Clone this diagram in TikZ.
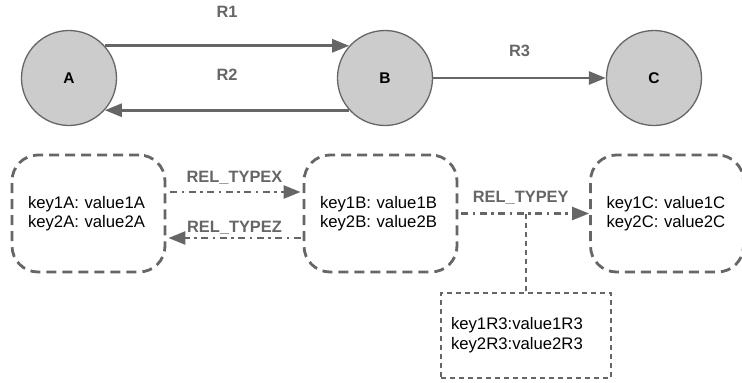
\documentclass[tikz,border=0pt]{standalone}
\usepackage{fontspec}
\setmainfont{Liberation Sans}
\usetikzlibrary{arrows.meta}

\definecolor{linegray}{HTML}{666666}
\definecolor{nodegray}{HTML}{CCCCCC}

\tikzset{
  lbl/.style={text=linegray, font=\bfseries\fontsize{16.4}{19}\selectfont, anchor=base},
  tip/.style={-{Triangle[length=17pt,width=13pt]}},
  dashdot/.style={dash pattern=on 7pt off 4.5pt on 2.5pt off 4.5pt}
}

\begin{document}
\begin{tikzpicture}[x=1pt,y=-1pt]

        \useasboundingbox (0,0) rectangle (742,383);

        \begin{scope}[every node/.style={circle, draw=linegray, fill=nodegray, line width=1.3pt,
                      minimum size=95pt, font=\bfseries\fontsize{15.5}{18}\selectfont}]
          \node (a) at (69,78)  {A};
          \node (b) at (385,78) {B};
          \node (c) at (654,78) {C};
        \end{scope}

        \begin{scope}[every node/.style={draw=linegray, line width=2.8pt, dash pattern=on 10pt off 6pt,
                      rounded corners=26pt, minimum height=117pt, text width=121pt, inner xsep=16pt,
                      align=left, font=\fontsize{16.7}{19}\selectfont}]
          \node (pa) at (88.5,213.5) {key1A: value1A\\key2A: value2A};
          \node (pb) at (380.5,213.5) {key1B: value1B\\key2B: value2B};
          \node (pc) at (667,213.5)  {key1C: value1C\\key2C: value2C};
        \end{scope}

        \node[draw=linegray, line width=1.4pt, dash pattern=on 5pt off 4pt, minimum height=85pt,
              text width=150pt, inner xsep=10pt, align=left, font=\fontsize{16.7}{20}\selectfont]
              (pr) at (526,335.5) {key1R3:value1R3\\key2R3:value2R3};

        \coordinate (ymid) at (pr.north |- pb.east);

        \begin{scope}[every edge/.style={draw=linegray, line width=2.6pt, tip}]
          \path (a.42)   edge node[lbl, yshift=28.5pt] (r1) {R1} (b.138);
          \path (b.-138) edge node[lbl, yshift=29.3pt] (r2) {R2} (a.-42);
          \path (b)      edge node[lbl, yshift=21.3pt] (r3) {R3} (c);
          \path ([yshift=21.5pt]pa.east) edge[dashdot, shorten <=4pt, shorten >=2pt]
                node[lbl, yshift=9.5pt] (tx) {REL\_TYPEX} ([yshift=21.5pt]pb.west);
          \path ([yshift=-24.5pt]pb.west) edge[dashdot, shorten <=2pt, shorten >=2pt]
                node[lbl, yshift=5.7pt] (tz) {REL\_TYPEZ} ([yshift=-24.5pt]pa.east);
          \path (pb.east) edge[dashdot, shorten <=3pt]
                node[lbl, yshift=11.3pt, xshift=-3pt] (ty) {REL\_TYPEY} (pc.west);
        \end{scope}

        \draw[linegray, line width=1.4pt, dash pattern=on 5pt off 4pt] (ymid) -- (pr.north);

\end{tikzpicture}
\end{document}
